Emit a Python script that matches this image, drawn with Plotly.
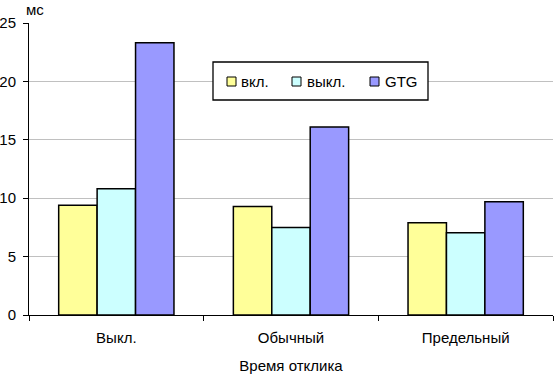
import plotly.graph_objects as go

categories = ["Выкл.", "Обычный", "Предельный"]
series_names = ["вкл.", "выкл.", "GTG"]
vkl = [9.4, 9.3, 7.9]
vykl = [10.8, 7.5, 7.05]
gtg = [23.3, 16.1, 9.7]
colors = ["#FFFF99", "#CCFFFF", "#9999FF"]
y_ticks = [0, 5, 10, 15, 20, 25]

W, H = 554, 374
ML, MR, MT, MB = 29, 1, 23, 59
PW, PH = W - ML - MR, H - MT - MB


def px(x):
    return (x - ML) / PW


def py(y):
    return (H - MB - y) / PH


FAM = "Liberation Sans, Arial, sans-serif"
font = dict(family=FAM, size=15, color="black")

fig = go.Figure()
for name, vals, col in zip(series_names, [vkl, vykl, gtg], colors):
    fig.add_trace(go.Bar(
        x=categories, y=vals, name=name, showlegend=False,
        marker=dict(color=col, line=dict(color="black", width=1.5)),
    ))

# legend box (drawn as layout shapes/annotations)
shapes = [dict(type="rect", xref="paper", yref="paper",
               x0=px(213), x1=px(428), y0=py(100), y1=py(62),
               fillcolor="white", line=dict(color="black", width=1.3), layer="above")]
annotations = []
sw_x = [227, 292, 370]
tx_x = [240, 306, 384]
for name, col, sx, tx in zip(series_names, colors, sw_x, tx_x):
    shapes.append(dict(type="rect", xref="paper", yref="paper",
                       x0=px(sx), x1=px(sx + 9), y0=py(86), y1=py(77),
                       fillcolor=col, line=dict(color="black", width=1), layer="above"))
    annotations.append(dict(text=name, xref="paper", yref="paper", x=px(tx), y=py(81.5),
                            xanchor="left", yanchor="middle", showarrow=False,
                            font=font, borderpad=0))

annotations.append(dict(text="мс", xref="paper", yref="paper", x=px(25), y=py(0),
                        xanchor="left", yanchor="top", showarrow=False,
                        font=font, borderpad=0))

fig.update_layout(
    width=W, height=H,
    margin=dict(l=ML, r=MR, t=MT, b=MB),
    paper_bgcolor="white", plot_bgcolor="white",
    font=font,
    barmode="group", bargap=0.34, bargroupgap=0,
    showlegend=False,
    xaxis=dict(
        automargin=False,
        showline=True, linecolor="black", linewidth=1,
        ticks="outside", tickson="boundaries", ticklen=5, tickcolor="black",
        tickfont=font, ticklabelstandoff=9,
        title=dict(text="Время отклика", standoff=15, font=font),
        showgrid=False,
    ),
    yaxis=dict(
        automargin=False,
        range=[0, 25], tickvals=y_ticks,
        showline=True, linecolor="black", linewidth=1,
        ticks="outside", ticklen=5, tickcolor="black",
        tickfont=font, ticklabelstandoff=4,
        showgrid=True, gridcolor="#C0C0C0", gridwidth=1,
        zeroline=False,
    ),
    shapes=shapes,
    annotations=annotations,
)
fig.write_html("out.html", config={"displayModeBar": False},
               post_script="document.body.style.margin='0';document.body.style.overflow='hidden';")
